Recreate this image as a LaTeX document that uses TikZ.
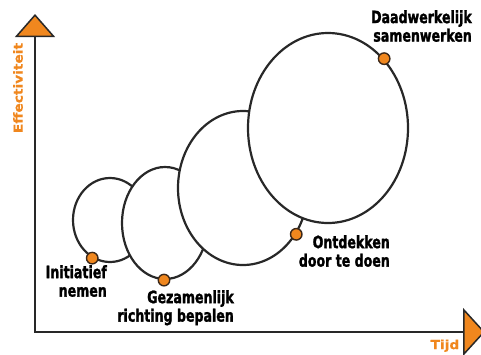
\documentclass[tikz,border=0pt]{standalone}
\usepackage{fontspec}
\usepackage{tikz}
\usetikzlibrary{shapes.geometric,arrows.meta}
\newfontfamily\stagefont{DejaVu Sans}[FakeStretch=0.74,FakeBold=1.5]
\newfontfamily\axisfont{DejaVu Sans}[FakeStretch=1.1,FakeBold=0.6]
\definecolor{curveorange}{RGB}{240,135,30}
\definecolor{curvedark}{RGB}{40,40,40}
\definecolor{dotrim}{RGB}{60,40,25}

\begin{document}
\begin{tikzpicture}[x=1pt, y=-1pt,
  phase/.style={ellipse, draw=curvedark, line width=2.2pt, fill=white, inner sep=0pt},
  milestone/.style={circle, draw=dotrim, fill=curveorange, line width=1.4pt, minimum size=11.5pt, inner sep=0pt},
  stagelabel/.style={anchor=north east, inner sep=0pt, align=right, font=\stagefont\bfseries\fontsize{17}{18.5}\selectfont},
  axislabel/.style={text=curveorange, inner sep=0pt, font=\axisfont\bfseries\fontsize{12.5}{14}\selectfont}]
  \clip (0,0) rectangle (481,354);

  % axes
  \coordinate (origin) at (35,332);
  \coordinate (ytip) at (35,14);
  \coordinate (xtip) at (485,332);
  \draw[curvedark, line width=2.8pt,
    {Triangle[width=40pt,length=23pt,fill=curveorange,line width=1.5pt]}-{Triangle[width=48pt,length=22pt,fill=curveorange,line width=1.5pt]}]
    (ytip) -- (origin) -- (xtip);
  \node[axislabel, rotate=90] (ylab) at (18,88) {Effectiviteit};
  \node[axislabel, anchor=south] (xlab) at (445,352) {Tijd};

  % growing phases, each one on top of the one before
  \node[phase, minimum width=74pt, minimum height=84pt] (e1) at (110,220) {};
  \node[phase, minimum width=86pt, minimum height=112pt] (e2) at (165,223) {};
  \node[phase, minimum width=130pt, minimum height=154pt] (e3) at (243,188) {};
  \node[phase, minimum width=160pt, minimum height=190pt] (e4) at (328,128) {};

  \node[milestone] (d1) at (e1.245) {};
  \node[milestone] (d2) at (e2.269) {};
  \node[milestone] (d3) at (e3.319) {};
  \node[milestone] (d4) at (e4.51) {};

  \node[stagelabel] (l1) at (107,265) {Initiatief\\nemen};
  \node[stagelabel] (l2) at (234,290) {Gezamenlijk\\richting bepalen};
  \node[stagelabel] (l3) at (390,235) {Ontdekken\\door te doen};
  \node[stagelabel] (l4) at (472,10) {Daadwerkelijk\\samenwerken};
\end{tikzpicture}
\end{document}
